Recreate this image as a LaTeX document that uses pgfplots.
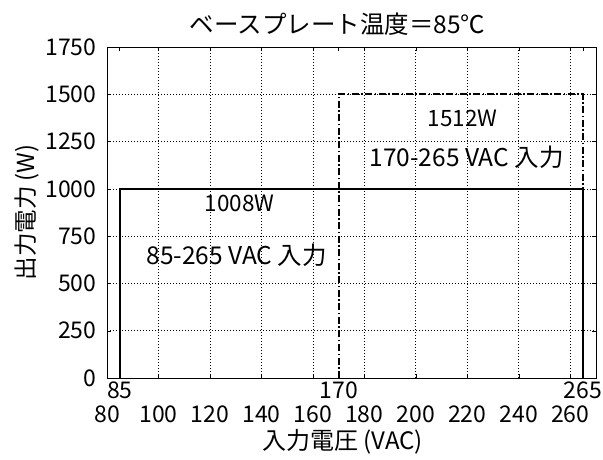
\documentclass[border=0pt]{standalone}
\usepackage{pgfplots}
\pgfplotsset{compat=1.18}
\usepackage{fontspec}
\setmainfont{Noto Sans CJK JP}
\begin{document}
\begin{tikzpicture}
\begin{axis}[
  name=ax,
  scale only axis,
  width=489pt, height=331pt,
  xmin=80, xmax=270, ymin=0, ymax=1750,
  xtick={80,100,...,260},
  ytick={0,250,...,1750},
  grid=major,
  major grid style={black, line width=0.7pt, dash pattern=on 1.4pt off 1.6pt},
  tick style={black},
  axis line style={black, line width=0.7pt},
  tick align=inside,
  major tick length=4pt,
  font=\fontsize{22.5}{26}\selectfont,
  tick label style={font=\fontsize{23}{26}\selectfont},
  y tick label style={xshift=-7pt},
  /pgf/number format/assume math mode=true,
  /pgf/number format/1000 sep={},
  x tick label style={yshift=-24pt},
  extra x ticks={85,170,265},
  extra x tick labels={85,170,265},
  extra x tick style={grid=none, x tick label style={yshift=24pt}, tick style={line width=1.2pt}},
  xlabel={入力電圧 (VAC)},
  xlabel style={font=\fontsize{24}{27}\selectfont, xshift=-9pt},
  ylabel={出力電力 (W)},
  ylabel style={font=\fontsize{23.5}{27}\selectfont, yshift=-1pt},
  title={ベースプレート温度＝85℃},
  title style={font=\fontsize{24.5}{28}\selectfont, yshift=2pt, xshift=-14pt},
  clip=false,
]
\addplot[black, line width=2.2pt] coordinates {(85,0) (85,1000) (265,1000) (265,0)};
\addplot[black, line width=2.2pt, dash pattern=on 7pt off 2.5pt on 1.5pt off 2.5pt] coordinates {(170,0) (170,1500) (265,1500) (265,0)};
\node at (axis cs:131.6,925) {1008W};
\node[font=\fontsize{24.5}{28}\selectfont] at (axis cs:130.4,650) {85-265 VAC 入力};
\node at (axis cs:218.2,1375) {1512W};
\node[font=\fontsize{24.5}{28}\selectfont] at (axis cs:219.7,1168) {170-265 VAC 入力};
\end{axis}
\pgfresetboundingbox
\path ([shift={(-107pt,-81pt)}]ax.south west) rectangle ([shift={(7pt,47pt)}]ax.north east);
\end{tikzpicture}
\end{document}
